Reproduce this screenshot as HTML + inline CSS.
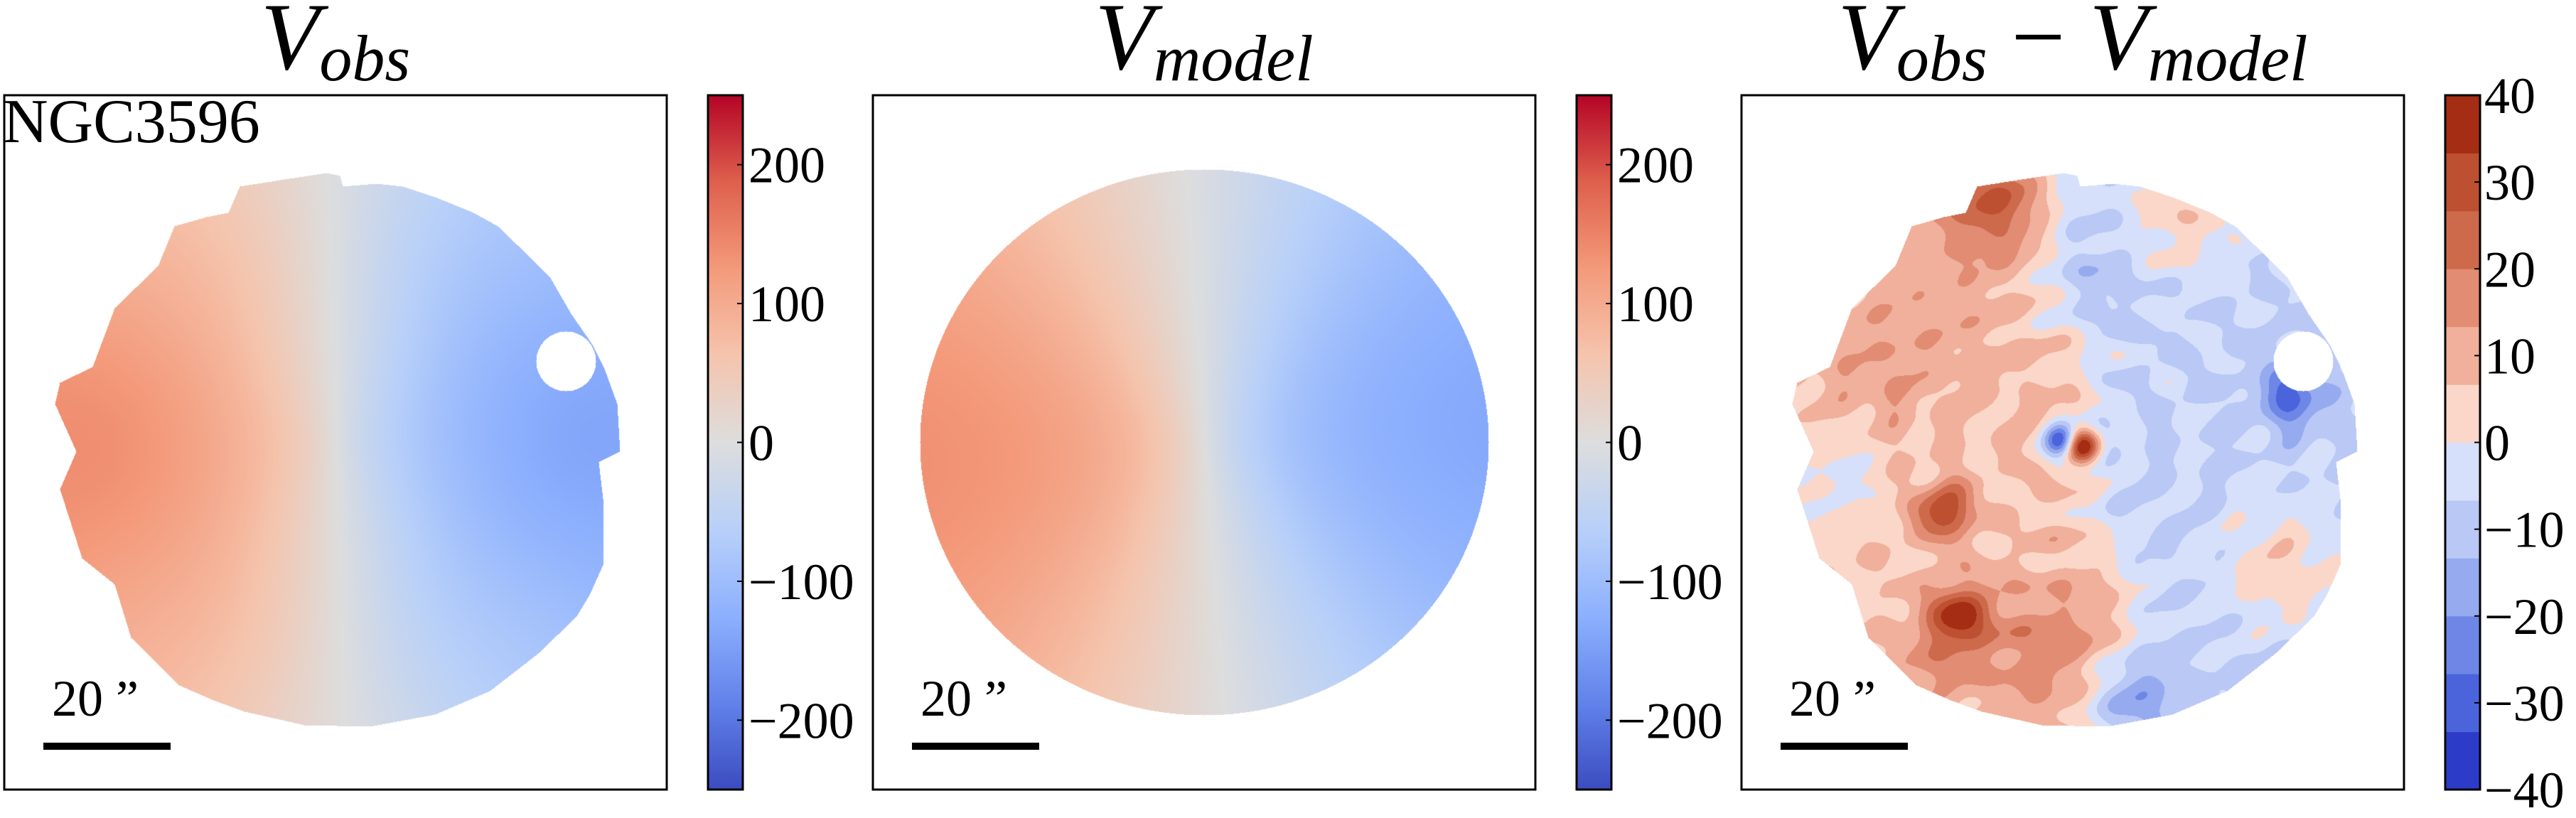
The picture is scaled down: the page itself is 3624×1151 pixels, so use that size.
<!DOCTYPE html>
<html><head><meta charset="utf-8">
<style>
html,body{margin:0;padding:0;background:#fff;}
#wrap{position:relative;width:3624px;height:1151px;overflow:hidden;background:#fff;font-family:"Liberation Serif",serif;}
canvas{position:absolute;left:0;top:0;}
svg{position:absolute;left:0;top:0;}
</style></head>
<body>
<div id="wrap">
<canvas id="maps" width="3624" height="1151"></canvas>
<svg id="ov" width="3624" height="1151"></svg>
</div>
<script>
// ---- data ----
const panelLefts = [6, 1228, 2450];
const panelTitles = [["V","obs"],["V","model"],["V","obs","V","model"]];
const cbarTicksVel = [200, 100, 0, -100, -200];
const cbarTicksRes = [40, 30, 20, 10, 0, -10, -20, -30, -40];
const velRange = [-250, 250];
const resRange = [-40, 40];
const resBinColors = ["#2d3cc8","#4b64dc","#6e87e6","#96aaf0","#b9c8f5","#d7e0fa","#fad7c8","#f0b09b","#e18c73","#cd6a4b","#be5032","#a52d14"];
const modelVmax = 140;
const modelTurn = 0.3;
const modelPA = -4;
const obsPA = -2;
const resBlobX = [2900, 2929, 2735, 2755, 2806, 3061, 2908, 2985, 3224, 3214, 2780, 2884, 2580, 2640, 3010, 2720];
const resBlobY = [620, 628, 719, 867, 281, 301, 403, 980, 556, 800, 380, 919, 673, 520, 300, 940];
const resBlobA = [-42, 42, 30, 30, 18, 14, -10, -18, -22, 12, 5, 12, -8, 6, -4, 8];
const resBlobS = [16, 18, 26, 32, 50, 60, 55, 45, 32, 60, 120, 70, 50, 60, 60, 40];
const outlineX = [337,400,459,478,482,530,566,612,666,700,727,773,803,834,849,868,872,842,849,849,830,811,757,689,612,520,428,344,300,252,184,161,115,84,107,77,84,130,161,222,245,290,321];
const outlineY = [262,252,243,247,262,258,262,277,299,318,344,389,441,486,516,568,635,650,710,792,835,867,919,972,1005,1022,1020,1001,985,964,897,822,785,688,635,568,538,516,433,374,318,305,299];
const holeX = 796, holeY = 508, holeRX = 42, holeRY = 42;

const boxTop = 134, boxBottom = 1111, boxW = 932;
const cy = 622, rx = 400, ry = 384;
const cbarOff = 990, cbarW = 49;

const cwStops = [[59,76,192],[98,130,234],[141,176,254],[184,208,249],[221,221,221],[245,196,173],[244,154,123],[222,96,77],[180,4,38]];
function coolwarm(t){
  t=Math.max(0,Math.min(1,t));
  const f=t*8, i=Math.min(7,Math.floor(f)), u=f-i;
  const a=cwStops[i], b=cwStops[i+1];
  return [a[0]+(b[0]-a[0])*u, a[1]+(b[1]-a[1])*u, a[2]+(b[2]-a[2])*u];
}
function hex(h){return [parseInt(h.substr(1,2),16),parseInt(h.substr(3,2),16),parseInt(h.substr(5,2),16)];}
const resRGB=resBinColors.map(hex);
function velY(v){ return boxBottom - (v-velRange[0])/(velRange[1]-velRange[0])*(boxBottom-boxTop); }
function resY(v){ return boxBottom - (v-resRange[0])/(resRange[1]-resRange[0])*(boxBottom-boxTop); }
function resColor(v){
  const n=resBinColors.length, step=(resRange[1]-resRange[0])/n;
  let k=Math.floor((v-resRange[0])/step); k=Math.max(0,Math.min(n-1,k));
  return resRGB[k];
}
function velField(dx,dy,pa){
  const a=pa*Math.PI/180;
  const x=(dx*Math.cos(a)+dy*Math.sin(a))/rx, y=(-dx*Math.sin(a)+dy*Math.cos(a))/ry;
  const r=Math.sqrt(x*x+y*y)+1e-9;
  const vr=modelVmax*(1-Math.exp(-r/modelTurn));
  return -vr*x/r;
}
function inPoly(px,py,X,Y){
  let c=false;
  for(let i=0,j=X.length-1;i<X.length;j=i++){
    if(((Y[i]>py)!=(Y[j]>py)) && (px < (X[j]-X[i])*(py-Y[i])/(Y[j]-Y[i])+X[i])) c=!c;
  }
  return c;
}
const cv=document.getElementById('maps'), ctx=cv.getContext('2d');
const img=ctx.createImageData(3624,1151), D=img.data;
function put(x,y,c){const o=(y*3624+x)*4;D[o]=c[0];D[o+1]=c[1];D[o+2]=c[2];D[o+3]=255;}
for(let y=boxTop;y<boxBottom;y++){for(let x=0;x<boxW;x++){
  const dx=x-466, dy=y-cy;
  if((dx*dx)/(rx*rx)+(dy*dy)/(ry*ry)<=1){
    const v=velField(dx,dy,modelPA);
    put(panelLefts[1]+x,y,coolwarm((v-velRange[0])/(velRange[1]-velRange[0])));
  }
  const px=x+6;
  const hx=(px-holeX)/holeRX, hy=(y-holeY)/holeRY;
  if(!(inPoly(px,y,outlineX,outlineY) && hx*hx+hy*hy>1)) continue;
  const vo=velField(dx,dy,obsPA)+6*Math.sin(dx/70)*Math.cos(dy/90);
  put(panelLefts[0]+x,y,coolwarm((vo-velRange[0])/(velRange[1]-velRange[0])));
  const X=panelLefts[2]+x;
  let r=6;
  const bx=2945+0.15*(y-625)+18*Math.sin(y/60);
  r+=-13/(1+Math.exp(-(X-bx)/18));
  const rr=Math.sqrt((dx/1.25)*(dx/1.25)+dy*dy);
  r+=5*Math.cos(rr/11)*Math.exp(-rr/300);
  r+=2.2*Math.sin(dx/13+dy/37)*Math.cos(dy/23-dx/51)+1.6*Math.sin(dy/9+dx/29);
  for(let k=0;k<resBlobX.length;k++){
    const ex=X-resBlobX[k], ey=y-resBlobY[k];
    r+=resBlobA[k]*Math.exp(-(ex*ex+ey*ey)/(2*resBlobS[k]*resBlobS[k]));
  }
  put(X,y,resColor(r));
}}
ctx.putImageData(img,0,0);

const NS='http://www.w3.org/2000/svg', ov=document.getElementById('ov');
function el(tag,attrs,parent){const e=document.createElementNS(NS,tag);for(const k in attrs)e.setAttribute(k,attrs[k]);(parent||ov).appendChild(e);return e;}
const defs=el('defs',{});
const grad=el('linearGradient',{id:'cwg',x1:0,y1:1,x2:0,y2:0},defs);
cwStops.forEach((c,i)=>{el('stop',{offset:(i/8),'stop-color':'rgb('+c.join(',')+')'},grad);});

panelLefts.forEach((L,p)=>{
  const box=el('rect',{x:L,y:boxTop,width:boxW,height:boxBottom-boxTop,fill:'none',stroke:'#000','stroke-width':3});
  
  
  const t=el('text',{x:L+466,y:97,'text-anchor':'middle','font-family':'"Liberation Serif",serif','font-style':'italic','font-size':135});
  
  
  const tt=panelTitles[p];
  const s1=el('tspan',{},t); s1.textContent=tt[0];
  const s2=el('tspan',{'font-size':92,dy:16},t); s2.textContent=tt[1];
  if(tt.length>2){
    const s3=el('tspan',{'font-style':'normal',dy:-16,'font-size':135},t); s3.textContent=' \u2212 ';
    const s4=el('tspan',{},t); s4.textContent=tt[2];
    const s5=el('tspan',{'font-size':92,dy:16},t); s5.textContent=tt[3];
  }
  const bar=el('rect',{x:L+55,y:1045,width:179,height:10,fill:'#000'});
  
  
  const sl=el('text',{x:L+67,y:1007,'font-family':'"Liberation Serif",serif','font-size':72});
  
  
  sl.textContent='20 \u201D';
  const cx0=L+cbarOff;
  if(p<2){
    const cb=el('rect',{x:cx0,y:boxTop,width:cbarW,height:boxBottom-boxTop,fill:'url(#cwg)',stroke:'#000','stroke-width':3});
    
    
    cbarTicksVel.forEach(v=>{
      const y=velY(v);
      el('line',{x1:cx0+cbarW-8,x2:cx0+cbarW,y1:y,y2:y,stroke:'#000','stroke-width':2});
      const lb=el('text',{x:cx0+cbarW+8,y:y+25,'font-family':'"Liberation Serif",serif','font-size':72});
      
      
      lb.textContent=(v<0?'\u2212':'')+Math.abs(v);
    });
  } else {
    const n=resBinColors.length, step=(resRange[1]-resRange[0])/n;
    for(let k=0;k<n;k++){
      const v0=resRange[0]+k*step, v1=v0+step;
      const b=el('rect',{x:cx0,y:resY(v1),width:cbarW,height:resY(v0)-resY(v1)+0.5,fill:resBinColors[k]});
      
      
    }
    const cb=el('rect',{x:cx0,y:boxTop,width:cbarW,height:boxBottom-boxTop,fill:'none',stroke:'#000','stroke-width':3});
    
    
    cbarTicksRes.forEach(v=>{
      const y=resY(v);
      el('line',{x1:cx0+cbarW-8,x2:cx0+cbarW,y1:y,y2:y,stroke:'#000','stroke-width':2});
      const lb=el('text',{x:cx0+cbarW+6,y:y+25,'font-family':'"Liberation Serif",serif','font-size':72});
      
      
      lb.textContent=(v<0?'\u2212':'')+Math.abs(v);
    });
  }
});
const gal=el('text',{x:4,y:200,'font-family':'"Liberation Serif",serif','font-size':88});


gal.textContent='NGC3596';
</script>
</body></html>
